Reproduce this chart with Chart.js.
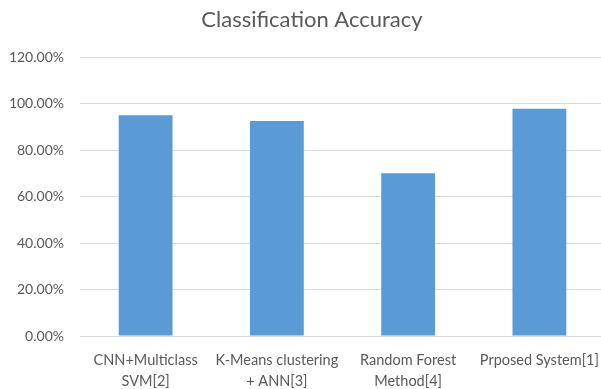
<!DOCTYPE html>
<html>
<head>
<meta charset="utf-8">
<script src="https://cdn.jsdelivr.net/npm/chart.js@4/dist/chart.umd.min.js"></script>
<style>
html,body{margin:0;padding:0;background:#fff;overflow:hidden;}
#wrap{width:605px;height:389px;position:relative;}
</style>
</head>
<body>
<div id="wrap"><canvas id="c" width="605" height="389"></canvas></div>
<script>
const categories = [["CNN+Multiclass","SVM[2]"],["K-Means clustering","+ ANN[3]"],["Random Forest","Method[4]"],"Prposed System[1]"];
const accuracy = [95.0, 92.5, 70.0, 97.7];
const yTicks = [0, 20, 40, 60, 80, 100, 120];
const titleText = "Classification Accuracy";

const FONT = "Lato, 'Open Sans', sans-serif";

const titlePlugin = {
  id: 'offsetTitle',
  afterDraw(chart) {
    const ctx = chart.ctx;
    ctx.save();
    ctx.fillStyle = '#595959';
    ctx.font = "22px " + FONT;
    ctx.textAlign = 'center';
    ctx.textBaseline = 'middle';
    ctx.fillText(titleText, 312, 20);
    ctx.restore();
  }
};

new Chart(document.getElementById('c'), {
  type: 'bar',
  data: {
    labels: categories,
    datasets: [{
      data: accuracy,
      backgroundColor: '#5b9bd5',
      borderWidth: 0,
      categoryPercentage: 1.0,
      barPercentage: 0.41
    }]
  },
  options: {
    responsive: false,
    animation: false,
    devicePixelRatio: 1,
    layout: { padding: { top: 57, left: 0, right: 0, bottom: 0 } },
    plugins: {
      legend: { display: false },
      tooltip: { enabled: false },
      title: { display: false }
    },
    scales: {
      x: {
        grid: { display: false, drawTicks: false },
        border: { display: false },
        ticks: {
          color: '#595959',
          font: { family: FONT, size: 14.5, lineHeight: 1.45 },
          padding: 14,
          maxRotation: 0,
          autoSkip: false
        },
        afterFit: s => { s.height = 53; s.paddingLeft = 0; s.paddingRight = 0; }
      },
      y: {
        min: 0, max: 120,
        afterBuildTicks: s => { s.ticks = yTicks.map(v => ({ value: v })); },
        grid: { color: '#d9d9d9', drawTicks: false, lineWidth: 1 },
        border: { display: false },
        ticks: {
          color: '#595959',
          font: { family: FONT, size: 14 },
          padding: 16,
          callback: v => v.toFixed(2) + '%'
        },
        afterFit: s => { s.width = 80; s.paddingTop = 0; s.paddingBottom = 0; }
      }
    }
  },
  plugins: [titlePlugin]
});
</script>
</body>
</html>
